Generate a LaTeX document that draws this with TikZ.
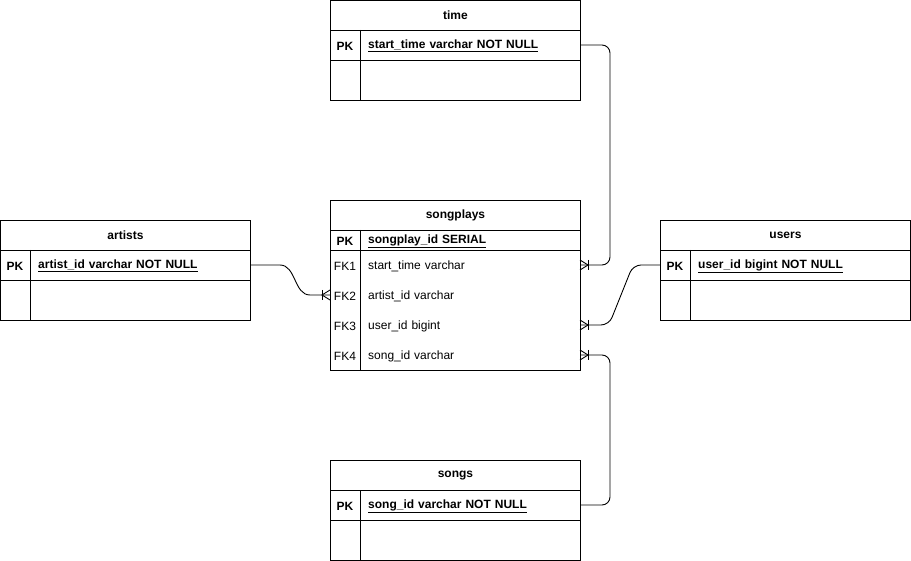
\documentclass[tikz,border=0pt]{standalone}
\usepackage{fontspec}
\setmainfont{Liberation Sans}
\usetikzlibrary{calc}
\newcommand{\erCrow}[2]{%
  \draw[line width=0.9pt] ([yshift=5pt]#1) -- ([xshift=#2*8pt]#1) -- ([yshift=-5pt]#1);
  \draw[line width=0.9pt] ([xshift=#2*8pt,yshift=5pt]#1) -- ([xshift=#2*8pt,yshift=-5pt]#1);}
\begin{document}
\begin{tikzpicture}[x=1pt,y=-1pt,
  every node/.style={font=\fontsize{12}{14}\selectfont},
  hdr/.style={draw, line width=0.9pt, minimum width=250pt, minimum height=30pt, anchor=north west, inner sep=0pt, font=\fontsize{12}{14}\selectfont\bfseries},
  frame/.style={line width=0.9pt},
  fld/.style={anchor=west, text width=204pt, inner xsep=8pt, inner ysep=0pt, minimum height=20pt, align=left, yshift=-1pt},
  fldb/.style={fld, font=\fontsize{12}{14}\selectfont\bfseries},
  key/.style={inner sep=0pt, yshift=-1pt},
  keyb/.style={key, font=\fontsize{12}{14}\selectfont\bfseries},
  rel/.style={line width=0.9pt, rounded corners=8pt}]
\useasboundingbox (0,0) rectangle (911,561);

% time
\node[hdr] (time) at (330,0) {time};
\draw[frame] (330,30) rectangle (580,100);
\draw[frame] (330,60) -- (580,60);
\draw[frame] (360,30) -- (360,100);
\node[keyb] (time-k) at (345,45) {PK};
\node[fldb] (time-pk) at (360,45) {\underline{start\_time varchar NOT NULL}};

% artists
\node[hdr] (artists) at (0,220) {artists};
\draw[frame] (0,250) rectangle (250,320);
\draw[frame] (0,280) -- (250,280);
\draw[frame] (30,250) -- (30,320);
\node[keyb] (art-k) at (15,265) {PK};
\node[fldb] (art-pk) at (30,265) {\underline{artist\_id varchar NOT NULL}};

% users
\node[hdr] (users) at (660,220) {users};
\draw[frame] (660,250) rectangle (910,320);
\draw[frame] (660,280) -- (910,280);
\draw[frame] (690,250) -- (690,320);
\node[keyb] (users-k) at (675,265) {PK};
\node[fldb] (users-pk) at (690,265) {\underline{user\_id bigint NOT NULL}};
\coordinate (users-w) at (660,265);

% songs
\node[hdr] (songs) at (330,460) {songs};
\draw[frame] (330,490) rectangle (580,560);
\draw[frame] (330,520) -- (580,520);
\draw[frame] (360,490) -- (360,560);
\node[keyb] (songs-k) at (345,505) {PK};
\node[fldb] (songs-pk) at (360,505) {\underline{song\_id varchar NOT NULL}};

% songplays
\node[hdr] (songplays) at (330,200) {songplays};
\draw[frame] (330,230) rectangle (580,370);
\draw[frame] (330,250) -- (580,250);
\draw[frame] (360,230) -- (360,370);
\node[keyb] (sp-k) at (345,240) {PK};
\node[fldb] (sp-pk) at (360,240) {\underline{songplay\_id SERIAL}};
\node[key] (sp-k1) at (345,265) {FK1};
\node[fld] (sp-fk1) at (360,265) {start\_time varchar};
\node[key] (sp-k2) at (345,295) {FK2};
\node[fld] (sp-fk2) at (360,295) {artist\_id varchar};
\node[key] (sp-k3) at (345,325) {FK3};
\node[fld] (sp-fk3) at (360,325) {user\_id bigint};
\node[key] (sp-k4) at (345,355) {FK4};
\node[fld] (sp-fk4) at (360,355) {song\_id varchar};
\coordinate (sp-e1) at (580,265);
\coordinate (sp-w2) at (330,295);
\coordinate (sp-e3) at (580,325);
\coordinate (sp-e4) at (580,355);
\coordinate (time-e) at (580,45);
\coordinate (songs-e) at (580,505);
\coordinate (art-e) at (250,265);

% relations
\draw[rel] (time-e) -- ++(30,0) |- (sp-e1);
\draw[rel] (songs-e) -- ++(30,0) |- (sp-e4);
\draw[rel] (users-w) -- ++(-27,0) -- ($(sp-e3)+(29,0)$) -- (sp-e3);
\draw[line width=0.9pt] (art-e) -- ++(30,0) .. controls ($(art-e)+(46,0)$) and ($(sp-w2)+(-36,0)$) .. ($(sp-w2)+(-20,0)$) -- (sp-w2);

\erCrow{sp-e1}{1}
\erCrow{sp-e3}{1}
\erCrow{sp-e4}{1}
\erCrow{sp-w2}{-1}
\end{tikzpicture}
\end{document}
